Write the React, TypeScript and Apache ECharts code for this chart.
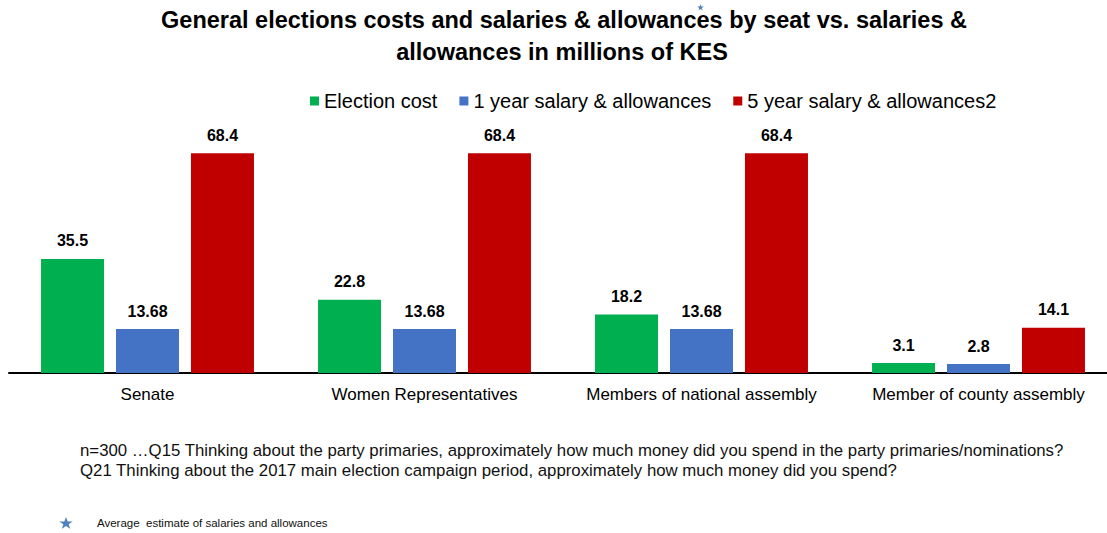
import React, { useEffect, useRef } from "react";
import * as echarts from "echarts";

const categories = ["Senate", "Women Representatives", "Members of national assembly", "Member of county assembly"];
const electionCost = [35.5, 22.8, 18.2, 3.1];
const oneYearSalary = [13.68, 13.68, 13.68, 2.8];
const fiveYearSalary = [68.4, 68.4, 68.4, 14.1];
const seriesNames = ["Election cost", "1 year salary & allowances", "5 year salary & allowances2"];
const colors = ["#00b050", "#4472c4", "#c00000"];
const titleLines = [
  "General elections costs and salaries & allowances by seat vs. salaries &",
  "allowances in millions of KES",
];
const footLines = [
  "n=300 \u2026Q15 Thinking about the party primaries, approximately how much money did you spend in the party primaries/nominations?",
  "Q21 Thinking about the 2017 main election campaign period, approximately how much money did you spend?",
];
const starNote = "Average  estimate of salaries and allowances";

const STAR = "M50 0 L61.8 35.3 L98.1 34.5 L69.1 56.3 L79.4 90.5 L50 70 L20.6 90.5 L30.9 56.3 L1.9 34.5 L38.2 35.3 Z";
echarts.graphic.registerShape("starShape", (echarts.graphic as any).extendPath(STAR, {}));

export default function App() {
  const ref = useRef<HTMLDivElement>(null);
  useEffect(() => {
    if (!ref.current) return;
    const chart = echarts.init(ref.current, null, { renderer: "svg" });
    const label = {
      show: true,
      position: "top",
      distance: 10,
      fontFamily: "Liberation Sans, Arial, sans-serif",
      fontWeight: "bold",
      fontSize: 16,
      color: "#000",
    };
    const mk = (i: number, data: number[]) => ({
      name: seriesNames[i],
      type: "bar",
      data,
      barWidth: 63,
      barGap: "19%",
      itemStyle: { color: colors[i] },
      label,
    });
    chart.setOption({
      animation: false,
      legend: {
        top: 86,
        left: 305,
        icon: "rect",
        itemWidth: 9,
        itemHeight: 9,
        itemGap: 22,
        textStyle: { fontFamily: "Liberation Sans, Arial, sans-serif", fontSize: 20, color: "#000" },
        data: seriesNames,
      },
      grid: { left: 9, width: 1108, top: 116, bottom: 160, containLabel: false, outerBoundsMode: "none" },
      xAxis: {
        type: "category",
        data: categories,
        axisLine: { lineStyle: { color: "#000", width: 2 } },
        axisTick: { show: false },
        axisLabel: {
          interval: 0,
          margin: 13,
          fontFamily: "Liberation Sans, Arial, sans-serif",
          fontSize: 17,
          color: "#000",
        },
      },
      yAxis: { type: "value", min: 0, max: 80, show: false, splitLine: { show: false } },
      series: [mk(0, electionCost), mk(1, oneYearSalary), mk(2, fiveYearSalary)],
      graphic: [
        {
          type: "text",
          x: 564,
          y: 20,
          style: {
            text: titleLines[0],
            fontFamily: "Liberation Sans, Arial, sans-serif",
            fontWeight: "bold",
            fontSize: 23.5,
            fill: "#000",
            textAlign: "center",
            textVerticalAlign: "middle",
          },
        },
        {
          type: "text",
          x: 562,
          y: 52,
          style: {
            text: titleLines[1],
            fontFamily: "Liberation Sans, Arial, sans-serif",
            fontWeight: "bold",
            fontSize: 23.5,
            fill: "#000",
            textAlign: "center",
            textVerticalAlign: "middle",
          },
        },
        {
          type: "starShape",
          x: 697,
          y: 4,
          scaleX: 0.07,
          scaleY: 0.07,
          style: { fill: "#4f81bd" },
        },
        {
          type: "text",
          x: 80,
          y: 450,
          style: {
            text: footLines[0],
            fontFamily: "Liberation Sans, Arial, sans-serif",
            fontSize: 16.8,
            fill: "#111",
            textVerticalAlign: "middle",
          },
        },
        {
          type: "text",
          x: 80,
          y: 470,
          style: {
            text: footLines[1],
            fontFamily: "Liberation Sans, Arial, sans-serif",
            fontSize: 16.8,
            fill: "#111",
            textVerticalAlign: "middle",
          },
        },
        {
          type: "starShape",
          x: 59,
          y: 517,
          scaleX: 0.14,
          scaleY: 0.13,
          style: { fill: "#4f81bd" },
        },
        {
          type: "text",
          x: 97,
          y: 523,
          style: {
            text: starNote,
            fontFamily: "Liberation Sans, Arial, sans-serif",
            fontSize: 11.5,
            fill: "#111",
            textVerticalAlign: "middle",
          },
        },
      ],
    });
    return () => chart.dispose();
  }, []);
  return (
    <div
      ref={ref}
      style={{ position: "fixed", left: 0, top: 0, width: 1107, height: 533, background: "#fff" }}
    />
  );
}
